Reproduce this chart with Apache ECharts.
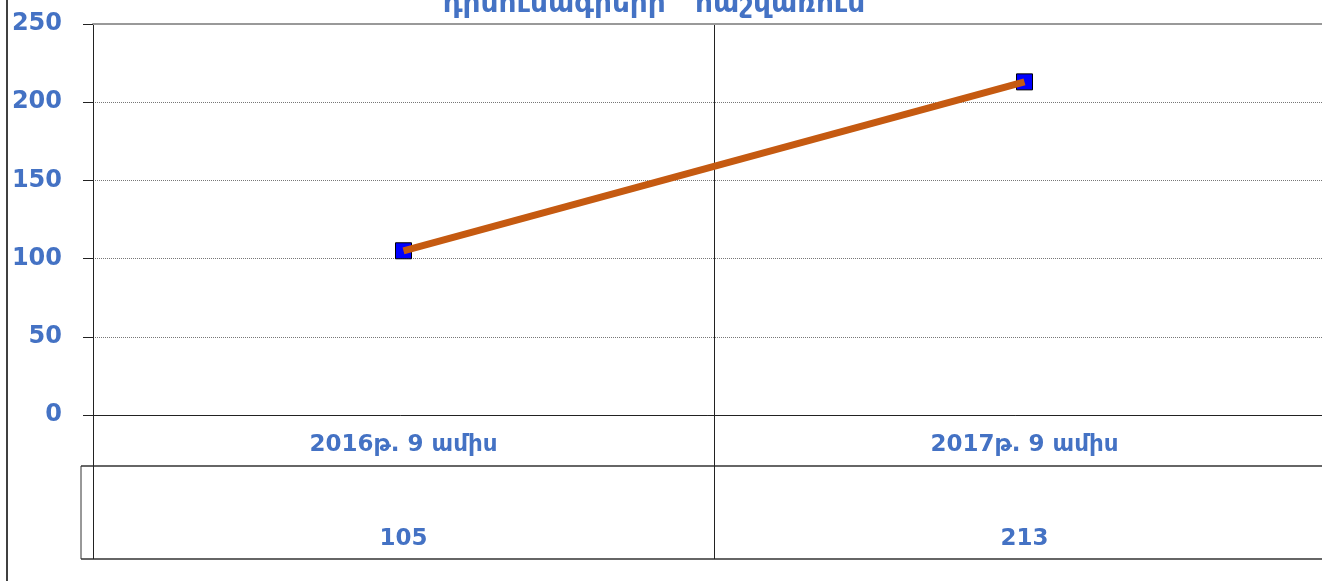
<!DOCTYPE html>
<html>
<head>
<meta charset="utf-8">
<script src="https://cdn.jsdelivr.net/npm/echarts@6/dist/echarts.min.js"></script>
<style>
html, body { margin: 0; padding: 0; background: #fff; }
#main { width: 1322px; height: 581px; }
</style>
</head>
<body>
<div id="main"></div>
<script>
// data
var categories = ['2016թ. 9 ամիս', '2017թ. 9 ամիս'];
var counts = [105, 213];
var yMin = 0, yMax = 250, yStep = 50;
var titleText = 'դիմումագրերի   հաշվառում';

// layout
var W = 1322, H = 581;
var gridLeft = 93, gridTop = 24, axisY = 415, rowY = 466, tableBottom = 559, tableLeft = 81;
var plotWidth = 1242; // plot runs past the right edge of the window
var blue = '#4472C4';
var font = 'DejaVu Sans';

var chart = echarts.init(document.getElementById('main'));
var option = {
    animation: false,
    backgroundColor: '#fff',
    title: {
        text: titleText,
        left: 649,
        top: -14,
        textAlign: 'center',
        textStyle: { color: blue, fontFamily: font, fontWeight: 'bold', fontSize: 28 }
    },
    grid: {
        left: gridLeft, width: plotWidth, top: gridTop, bottom: H - axisY,
        containLabel: false, outerBoundsMode: 'none'
    },
    xAxis: [
        {
            type: 'category',
            data: categories,
            position: 'bottom',
            axisLine: { lineStyle: { color: '#222', width: 1 } },
            axisTick: { show: true, interval: 0, length: tableBottom - axisY, lineStyle: { color: '#222' } },
            axisLabel: { color: blue, fontFamily: font, fontWeight: 'bold', fontSize: 23, margin: 19 },
            splitLine: { show: true, interval: 0, lineStyle: { color: '#222' } }
        },
        {
            // table row with the values
            type: 'category',
            data: counts.map(String),
            position: 'bottom',
            offset: rowY - axisY,
            axisLine: { show: false },
            axisTick: { show: false },
            axisLabel: { color: blue, fontFamily: font, fontWeight: 'bold', fontSize: 23, margin: 62 }
        },
        {
            type: 'category',
            data: categories,
            position: 'top',
            axisLine: { lineStyle: { color: '#999', width: 2 } },
            axisTick: { show: false },
            axisLabel: { show: false }
        }
    ],
    yAxis: {
        type: 'value',
        min: yMin,
        max: yMax,
        interval: yStep,
        axisLine: { show: true, lineStyle: { color: '#222' } },
        axisTick: { show: true, length: 10, lineStyle: { color: '#222' } },
        axisLabel: { color: blue, fontFamily: font, fontWeight: 'bold', fontSize: 24, margin: 31 },
        splitLine: { show: true, lineStyle: { color: '#777', type: 'dotted' } }
    },
    series: [
        {
            type: 'scatter',
            data: counts,
            symbol: 'rect',
            symbolSize: 16,
            itemStyle: { color: '#0000FF', borderColor: '#000', borderWidth: 1, opacity: 1 },
            z: 2
        },
        {
            type: 'line',
            data: counts,
            symbol: 'none',
            lineStyle: { color: '#C55A11', width: 7 },
            z: 3
        }
    ],
    graphic: [
        { type: 'line', shape: { x1: 7, y1: 0, x2: 7, y2: H }, style: { stroke: '#000', lineWidth: 1.5 } },
        { type: 'line', shape: { x1: tableLeft, y1: rowY, x2: W, y2: rowY }, style: { stroke: '#333', lineWidth: 1.5 } },
        { type: 'line', shape: { x1: tableLeft, y1: tableBottom, x2: W, y2: tableBottom }, style: { stroke: '#333', lineWidth: 1.5 } },
        { type: 'line', shape: { x1: tableLeft, y1: rowY, x2: tableLeft, y2: tableBottom }, style: { stroke: '#333', lineWidth: 1 } }
    ]
};
chart.setOption(option);
</script>
</body>
</html>
